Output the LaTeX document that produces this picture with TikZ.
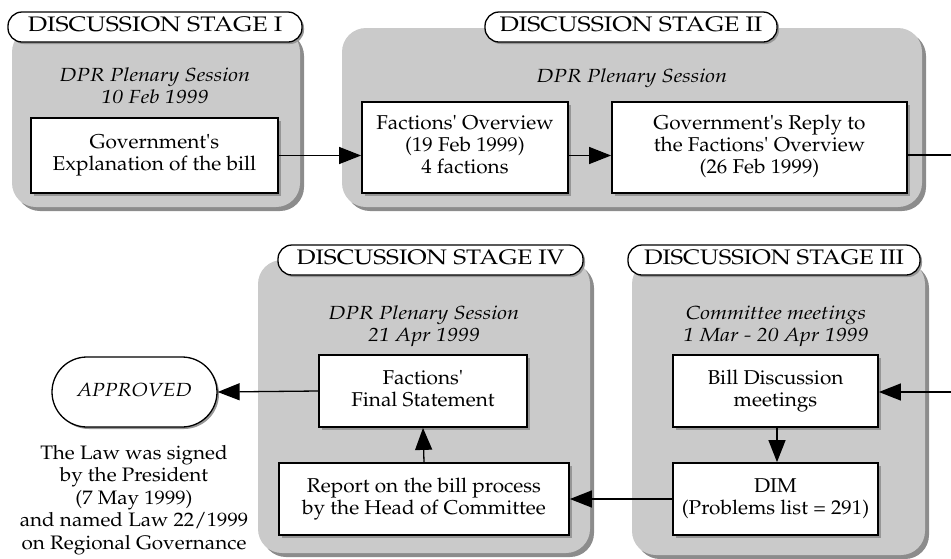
\documentclass[tikz,border=0pt]{standalone}
\usepackage[T1]{fontenc}
\usepackage{mathpazo}
\usepackage{graphicx}
\usetikzlibrary{arrows.meta,shadows}

\definecolor{panelgray}{RGB}{202,202,202}
\definecolor{panelshadow}{RGB}{140,140,140}
\definecolor{boxshadow}{RGB}{150,150,150}

% centred lines, widened horizontally
\newcommand{\wide}[2][1.1]{\scalebox{#1}[1]{\begin{tabular}{@{}c@{}}#2\end{tabular}}}
% straight apostrophe
\newcommand{\ap}{\textquotesingle}

\tikzset{
  panel/.style={fill=panelgray, rounded corners=24pt, inner sep=0pt,
    drop shadow={shadow xshift=4pt, shadow yshift=-4pt, fill=panelshadow, opacity=1}},
  stagelabel/.style={draw, line width=1.3pt, fill=white, rounded corners=14pt,
    minimum height=30pt, inner xsep=4pt, inner ysep=0pt,
    font=\fontsize{21}{24}\selectfont,
    drop shadow={shadow xshift=2pt, shadow yshift=-2pt, fill=boxshadow, opacity=1}},
  stepbox/.style={draw, line width=1.8pt, fill=white, inner sep=0pt,
    font=\fontsize{20}{22}\selectfont,
    drop shadow={shadow xshift=3pt, shadow yshift=-3pt, fill=boxshadow, opacity=1}},
  session/.style={inner sep=0pt, font=\itshape\fontsize{19}{21.5}\selectfont},
  endpill/.style={draw, line width=1.3pt, fill=white, rounded corners=35pt,
    font=\itshape\fontsize{19}{21}\selectfont,
    drop shadow={shadow xshift=2pt, shadow yshift=-2pt, fill=boxshadow, opacity=1}},
  flow/.style={line width=1.3pt, -{Triangle[length=22pt,width=17pt]}},
  plain/.style={line width=1.3pt},
}

\begin{document}
\begin{tikzpicture}[x=1pt,y=-1pt]
\useasboundingbox (0,0) rectangle (951,558);

% stage panels
\node[panel, minimum width=288pt, minimum height=179pt] (p1) at (156,117.5) {};
\node[panel, minimum width=580pt, minimum height=179pt] (p2) at (632,117.5) {};
\node[panel, minimum width=332pt, minimum height=293pt] (p4) at (424,406.5) {};
\node[panel, minimum width=293pt, minimum height=295pt] (p3) at (778.5,407.5) {};

% stage titles
\node[stagelabel, minimum width=294pt] (t1) at (155,27) {\wide[1.19]{DISCUSSION STAGE I}};
\node[stagelabel, minimum width=292pt] (t2) at (631,27) {\wide[1.19]{DISCUSSION STAGE II}};
\node[stagelabel, minimum width=305pt] (t4) at (430.5,260) {\wide[1.17]{DISCUSSION STAGE IV}};
\node[stagelabel, minimum width=292pt] (t3) at (774,260) {\wide[1.14]{DISCUSSION STAGE III}};

% session headings
\node[session] (s1) at (155,88) {\wide[1.15]{DPR Plenary Session\\10 Feb 1999}};
\node[session] (s2) at (632,78) {\wide[1.15]{DPR Plenary Session}};
\node[session] (s4) at (424,326) {\wide[1.15]{DPR Plenary Session\\21 Apr 1999}};
\node[session] (s3) at (776,326) {\wide[1.15]{Committee meetings\\1 Mar - 20 Apr 1999}};

% steps
\node[stepbox, minimum width=247pt, minimum height=75pt] (gov) at (154.5,155.5)
  {\wide[1.04]{Government\ap s\\Explanation of the bill}};
\node[stepbox, minimum width=206pt, minimum height=91pt] (fac) at (465,147.5)
  {\wide[1.04]{Factions\ap{} Overview\\(19 Feb 1999)\\4 factions}};
\node[stepbox, minimum width=295pt, minimum height=91pt] (reply) at (759.5,147.5)
  {\wide[1.04]{Government\ap s Reply to\\the Factions\ap{} Overview\\(26 Feb 1999)}};
\node[stepbox, minimum width=205pt, minimum height=72pt] (bill) at (775.5,391)
  {\wide[1.04]{Bill Discussion\\meetings}};
\node[stepbox, minimum width=205pt, minimum height=72pt] (dim) at (775.5,499)
  {\wide[1.04]{DIM\\(Problems list = 291)}};
\node[stepbox, minimum width=290pt, minimum height=72pt] (report) at (424,499)
  {\wide[1.04]{Report on the bill process\\by the Head of Committee}};
\node[stepbox, minimum width=208pt, minimum height=72pt] (final) at (423,391)
  {\wide[1.04]{Factions\ap\\Final Statement}};

% outcome
\node[endpill, minimum width=165pt, minimum height=70pt] (ok) at (134.5,392) {\wide[1.1]{APPROVED}};
\node[inner sep=0pt, font=\fontsize{19.5}{22.5}\selectfont] (note) at (134,499.5)
  {\wide[1.06]{The Law was signed\\by the President\\(7 May 1999)\\and named Law 22/1999\\on Regional Governance}};

% row ends running off to the right
\coordinate (out1) at (951,155);
\coordinate (in3) at (951,392);

% connectors
\draw[flow] (gov.east |- gov) -- (fac.west |- gov);
\draw[flow] (fac.east |- gov) -- (reply.west |- gov);
\draw[plain] (reply.east |- out1) -- (out1);
\draw[flow] (in3) -- (bill.east |- in3);
\draw[flow] (bill.south -| 777,0) -- (dim.north -| 777,0);
\draw[flow] (dim.west) -- (report.east);
\draw[flow] (report.north) -- (final.south);
\draw[flow] (final.west) -- (ok.east);
\end{tikzpicture}
\end{document}
